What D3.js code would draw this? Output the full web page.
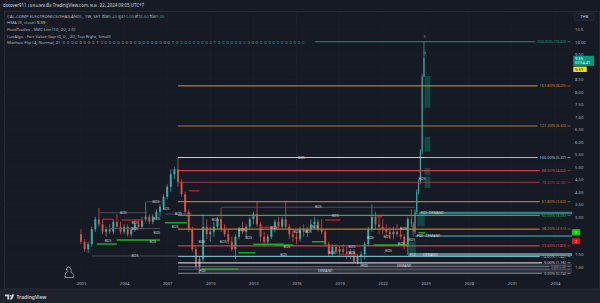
<!DOCTYPE html>
<html>
<head>
  <meta charset="UTF-8">
  <title>CCET 1W</title>
  <style>
    body {
      margin: 0;
      background: #161a25;
    }
    text {
      font-family: "Noto Sans", "DejaVu Sans", sans-serif;
    }
  </style>
</head>
<body>
  <div id="chart"></div>
  <script src="https://cdn.jsdelivr.net/npm/d3@7/dist/d3.min.js"></script>
  <script>
    // weekly candles squeezed into quarters (eighths for the 2024 run-up)
    var quarters = d3.range(92).map(function (i) { return 2001 + i * 0.25 })
    var eighths2024 = d3.range(8).map(function (i) { return 2024 + i * 0.125 })
    var candleTimes = quarters.concat(eighths2024)
    // [open, high, low, close]
    var ohlc = [
      [2.3, 2.5, 1.9, 2.0], [2.0, 2.1, 1.6, 1.7], [1.7, 2.0, 1.55, 1.9], [1.9, 2.6, 1.8, 2.5],
      [2.5, 3.0, 2.4, 2.9], [2.9, 3.35, 2.6, 2.7], [2.7, 2.9, 2.3, 2.4], [2.4, 2.6, 2.2, 2.5],
      [2.5, 2.7, 2.3, 2.4], [2.4, 2.9, 2.3, 2.8], [2.8, 3.1, 2.5, 2.6], [2.6, 2.8, 2.3, 2.4],
      [2.4, 2.7, 2.3, 2.6], [2.6, 2.7, 2.2, 2.3], [2.3, 2.6, 2.2, 2.5], [2.5, 2.8, 2.4, 2.7],
      [2.7, 2.9, 2.5, 2.6], [2.6, 3.0, 2.5, 2.9], [2.9, 3.6, 2.8, 3.0], [3.0, 3.1, 2.7, 2.8],
      [2.8, 3.1, 2.7, 3.0], [3.0, 3.3, 2.9, 3.2], [3.2, 3.5, 3.0, 3.4], [3.4, 3.9, 3.3, 3.8],
      [3.8, 4.3, 3.7, 4.2], [4.2, 4.9, 4.0, 4.7], [4.7, 5.0, 4.5, 4.9], [4.9, 5.37, 4.2, 4.4],
      [4.4, 4.5, 3.8, 3.9], [3.9, 4.0, 3.1, 3.2], [3.2, 3.3, 2.4, 2.5], [2.5, 2.6, 1.6, 1.7],
      [1.7, 1.8, 0.9, 1.0], [1.0, 1.4, 0.74, 1.3], [1.3, 3.1, 1.2, 2.6], [2.6, 2.9, 2.1, 2.3],
      [2.3, 2.6, 2.0, 2.4], [2.4, 2.8, 2.2, 2.6], [2.6, 3.0, 2.5, 2.9], [2.9, 3.35, 2.4, 2.5],
      [2.5, 2.7, 2.2, 2.3], [2.3, 2.5, 1.9, 2.0], [2.0, 2.2, 1.6, 1.7], [1.7, 2.3, 1.3, 2.2],
      [2.2, 2.6, 2.1, 2.5], [2.5, 2.8, 2.3, 2.4], [2.4, 2.7, 2.2, 2.6], [2.6, 3.0, 2.5, 2.9],
      [2.9, 3.2, 2.7, 3.1], [3.1, 3.6, 2.6, 2.7], [2.7, 2.8, 2.0, 2.2], [2.2, 2.4, 1.8, 2.0],
      [2.0, 2.3, 1.9, 2.2], [2.2, 2.6, 2.1, 2.5], [2.5, 2.9, 2.4, 2.8], [2.8, 3.0, 2.5, 2.6],
      [2.6, 3.0, 2.5, 2.9], [2.9, 3.6, 2.5, 2.6], [2.6, 2.7, 2.1, 2.3], [2.3, 2.5, 2.0, 2.2],
      [2.2, 2.4, 1.9, 2.1], [2.1, 2.6, 2.0, 2.5], [2.5, 2.7, 2.2, 2.4], [2.4, 2.6, 2.2, 2.5],
      [2.5, 2.9, 2.4, 2.7], [2.7, 3.0, 2.5, 2.8], [2.8, 2.9, 2.4, 2.5], [2.5, 2.9, 2.3, 2.4],
      [2.4, 2.5, 1.8, 1.9], [1.9, 2.0, 1.4, 1.5], [1.5, 1.9, 1.4, 1.8], [1.8, 1.9, 1.5, 1.6],
      [1.6, 1.8, 1.4, 1.7], [1.7, 1.9, 1.5, 1.6], [1.6, 1.8, 1.3, 1.4], [1.4, 1.7, 1.3, 1.6],
      [1.6, 1.7, 1.2, 1.2], [1.2, 1.5, 1.1, 1.4], [1.4, 1.6, 1.0, 1.5], [1.5, 2.0, 1.3, 1.9],
      [1.9, 2.6, 1.8, 2.5], [2.5, 3.5, 2.4, 3.0], [3.0, 3.2, 2.5, 2.7], [2.7, 3.0, 2.3, 2.6],
      [2.6, 2.9, 2.3, 2.5], [2.5, 2.7, 2.2, 2.4], [2.4, 2.6, 2.1, 2.3], [2.3, 2.6, 2.1, 2.4],
      [2.4, 2.7, 2.2, 2.3], [2.3, 2.6, 2.1, 2.2], [2.2, 2.3, 1.7, 1.8], [1.8, 3.0, 1.47, 2.9],
      [2.9, 3.3, 2.6, 2.7], [2.7, 2.8, 2.2, 2.4], [2.4, 3.3, 2.3, 3.2], [3.2, 4.1, 3.1, 4.0],
      [4.0, 4.5, 3.9, 4.4], [4.4, 5.7, 4.3, 5.6], [5.6, 8.7, 5.5, 8.6], [8.6, 10.0, 8.6, 9.35]
    ]

    var yearTicks = [2001, 2004, 2007, 2010, 2013, 2016, 2019, 2022, 2025, 2028, 2031, 2034]
    var priceTicks = [1, 1.5, 2, 2.5, 3, 3.5, 4, 4.5, 5, 5.5, 6, 6.5, 7, 7.5, 8, 8.5, 9, 9.5, 10, 10.5]
    var lastPrice = 9.35, hmaValue = 9.39

    // fib from the 2009 low to the 2007 high
    var fibLow = 0.74, fibHigh = 5.37, fibStart = 2007.76
    var fibRatios = [0, 0.034, 0.056, 0.09, 0.146, 0.236, 0.382, 0.5, 0.618, 0.786, 0.886, 1, 1.272, 1.618, 2]

    // SMC lite: [from, to, price]
    var bosLines = [
      [2002.32, 2005.58, 3.16], [2005.58, 2006.85, 3.6], [2003.0, 2006.5, 2.53],
      [2001.75, 2007.76, 1.43], [2006.85, 2008.71, 3.11], [2010.76, 2024.28, 3.38],
      [2007.76, 2024.92, 5.37]
    ]
    // BOS tags whose lines are too short to see: [time, price]
    var bosTags = [
      [2002.88, 2.04], [2006.28, 2.9], [2006.0, 1.98], [2006.92, 3.31], [2010.34, 2.87],
      [2012.2, 2.47], [2014.4, 2.54], [2016.82, 2.38], [2017.31, 2.58], [2006.28, 2.34],
      [2009.41, 2.0], [2010.9, 1.98], [2012.66, 2.14], [2016.03, 2.38], [2015.33, 1.78],
      [2018.7, 3.04], [2007.55, 2.58], [2015.1, 1.47], [2018.47, 1.54], [2019.86, 1.54],
      [2024.74, 4.5], [2023.46, 2.5], [2021.14, 2.14], [2022.3, 2.2], [2023.3, 1.91],
      [2022.41, 1.64], [2024.02, 2.06], [2019.86, 1.8], [2004.76, 2.74]
    ]
    var supplyLines = [
      [2002.53, 2003.23, 2.9], [2003.84, 2005.32, 2.87], [2008.53, 2009.24, 4.04],
      [2013.47, 2014.75, 2.58], [2018.0, 2019.05, 2.87], [2018.93, 2020.21, 1.47],
      [2021.6, 2021.95, 3.0]
    ]
    var demandLines = [
      [2002.09, 2003.49, 1.91], [2003.49, 2006.5, 2.07], [2006.85, 2008.37, 2.76],
      [2014.52, 2015.8, 1.87], [2017.08, 2018.0, 2.0], [2011.96, 2013.13, 1.56],
      [2013.0, 2015.1, 1.9], [2009.41, 2011.96, 0.9], [2021.37, 2023.81, 1.87],
      [2024.5, 2024.97, 2.36]
    ]
    // demand zones: [from, top, bottom, label time]
    var zones = [
      [2024.55, 3.20, 3.10, 2025.74], [2024.28, 2.27, 2.19, 2025.5], [2023.79, 1.55, 1.43, 2025.32],
      [2009.15, 0.95, 0.74, 2018.0], [2020.44, 1.10, 1.00, 2023.5]
    ]
    // LuxAlgo fair value gaps: [from, to, top, bottom]
    var fvgBoxes = [
      [2024.92, 2025.32, 8.63, 7.36], [2024.92, 2025.32, 6.2, 5.6], [2024.92, 2025.32, 4.95, 4.67],
      [2024.92, 2025.32, 4.6, 4.15], [2024.42, 2024.92, 3.15, 2.62], [2023.81, 2024.3, 2.0, 1.47]
    ]
    var flipDigits = '0000000010000000000000000010000000001000000000000000000000'.split('')

    var W = 600, H = 303
    var plot = { left: 4, right: 572, top: 12, bottom: 278 }
    var bg = '#161a25'
    var textCol = '#b2b5be'

    var svg = d3.select('#chart').append('svg')
      .attr('width', W)
      .attr('height', H)

    svg.append('rect').attr('width', W).attr('height', H).attr('fill', bg)
    svg.append('rect').attr('y', 289).attr('width', W).attr('height', 14).attr('fill', '#1e222d')
    svg.append('rect')
      .attr('x', 4.5).attr('y', 11.5).attr('width', 595).attr('height', 277.5)
      .attr('fill', 'none').attr('stroke', '#262a35').attr('stroke-width', 1)

    var x = d3.scaleLinear().domain([1995.64, 2035.18]).range([plot.left, plot.right])
    var y = d3.scaleLinear().domain([0.55, 11.19]).range([plot.bottom, plot.top])

    svg.append('clipPath').attr('id', 'clip').append('rect')
      .attr('x', plot.left).attr('y', plot.top)
      .attr('width', plot.right - plot.left).attr('height', plot.bottom - plot.top)

    var g = svg.append('g').attr('clip-path', 'url(#clip)')

    // grid
    g.append('g').selectAll('line').data(yearTicks).enter().append('line')
      .attr('x1', d => x(d)).attr('x2', d => x(d))
      .attr('y1', plot.top).attr('y2', plot.bottom)
      .attr('stroke', '#1d212c').attr('stroke-width', 0.8)
    g.append('g').selectAll('line').data(priceTicks).enter().append('line')
      .attr('x1', plot.left).attr('x2', plot.right)
      .attr('y1', d => y(d)).attr('y2', d => y(d))
      .attr('stroke', '#1b1f2a').attr('stroke-width', 0.8)

    // demand zones
    var zoneCol = ['#3a9ea6', '#2f8b94', '#6fa9b3', '#4a4f5b', '#5b606c']
    var zg = g.append('g')
    zones.forEach(function (z, i) {
      zg.append('rect')
        .attr('x', x(z[0])).attr('y', y(z[1]))
        .attr('width', plot.right - x(z[0]))
        .attr('height', Math.max(1.2, y(z[2]) - y(z[1])))
        .attr('fill', zoneCol[i]).attr('fill-opacity', i < 3 ? 0.75 : 0.45)
    })

    // candles
    var up = '#3fb6b0', down = '#e2564f'
    function gap(i) {
      var j = i < candleTimes.length - 1 ? i : i - 1
      return x(candleTimes[j + 1]) - x(candleTimes[j])
    }
    var cg = g.append('g').selectAll('g').data(ohlc).enter().append('g')
    cg.append('line')
      .attr('x1', (d, i) => x(candleTimes[i]))
      .attr('x2', (d, i) => x(candleTimes[i]))
      .attr('y1', d => y(d[1])).attr('y2', d => y(d[2]))
      .attr('stroke', d => d[3] >= d[0] ? up : down).attr('stroke-width', 0.7)
    cg.append('rect')
      .attr('x', (d, i) => x(candleTimes[i]) - gap(i) * 0.28)
      .attr('width', (d, i) => gap(i) * 0.56)
      .attr('y', d => y(Math.max(d[0], d[3])))
      .attr('height', d => Math.max(0.8, Math.abs(y(d[0]) - y(d[3]))))
      .attr('fill', d => d[3] >= d[0] ? up : down)
      .attr('fill-opacity', 0.85)

    // fair value gaps
    g.append('g').selectAll('rect').data(fvgBoxes).enter().append('rect')
      .attr('x', d => x(d[0])).attr('width', d => x(d[1]) - x(d[0]))
      .attr('y', d => y(d[2])).attr('height', d => y(d[3]) - y(d[2]))
      .attr('fill', '#0f7f6c').attr('fill-opacity', 0.45)

    // fib levels, labels sit left of the price scale
    var fibColor = {
      0: '#aeb3bd', 0.034: '#6f7480', 0.056: '#8d929c', 0.09: '#d6d9e0', 0.146: '#7ec4cf',
      0.236: '#e0434f', 0.382: '#c9851f', 0.5: '#4caf50', 0.618: '#c9851f', 0.786: '#b8324a',
      0.886: '#e0434f', 1: '#a8d0dc', 1.272: '#c9851f', 1.618: '#c9851f', 2: '#1f9c84'
    }
    var fibs = fibRatios.map(function (r) {
      return { r: r, price: fibLow + (fibHigh - fibLow) * r }
    })
    var fl = svg.append('g')
    var fibLines = g.append('g')
    fibs.forEach(function (f) {
      var col = fibColor[f.r]
      // the three bottom levels crowd each other, keep their tags small
      var fs = f.r > 0 && f.r < 0.09 ? 2.6 : 3.9
      var t = fl.append('text')
        .attr('x', 566).attr('y', y(f.price) + fs * 0.36)
        .attr('text-anchor', 'end')
        .attr('font-size', fs).attr('fill', col)
        .text((f.r * 100).toFixed(2) + '% (' + f.price.toFixed(2) + ')')
      fl.append('line')
        .attr('x1', 567.5).attr('x2', 570.5)
        .attr('y1', y(f.price)).attr('y2', y(f.price))
        .attr('stroke', col).attr('stroke-width', 0.6)
      var end = 566 - t.node().getComputedTextLength() - 2
      fibLines.append('line')
        .attr('x1', x(fibStart)).attr('x2', end)
        .attr('y1', y(f.price)).attr('y2', y(f.price))
        .attr('stroke', col)
        .attr('stroke-width', f.r < 0.09 ? 0.8 : 1.2)
        .attr('stroke-opacity', 0.9)
    })

    // supply / demand stubs
    g.append('g').selectAll('line').data(supplyLines).enter().append('line')
      .attr('x1', d => x(d[0])).attr('x2', d => x(d[1]))
      .attr('y1', d => y(d[2])).attr('y2', d => y(d[2]))
      .attr('stroke', '#a3202a').attr('stroke-width', 1.6)
    g.append('g').selectAll('line').data(demandLines).enter().append('line')
      .attr('x1', d => x(d[0])).attr('x2', d => x(d[1]))
      .attr('y1', d => y(d[2])).attr('y2', d => y(d[2]))
      .attr('stroke', '#10b820').attr('stroke-width', 1.4)

    // BOS
    var bg2 = g.append('g')
    bg2.selectAll('line').data(bosLines).enter().append('line')
      .attr('x1', d => x(d[0])).attr('x2', d => x(d[1]))
      .attr('y1', d => y(d[2])).attr('y2', d => y(d[2]))
      .attr('stroke', d => d[2] > 5 ? '#b9d6e0' : '#5d606b')
      .attr('stroke-width', d => d[2] > 5 ? 1.2 : 0.7)
    var tags = bosLines.map(d => [(d[0] + d[1]) / 2, d[2]]).concat(bosTags)
    bg2.selectAll('text').data(tags).enter().append('text')
      .attr('x', d => x(d[0])).attr('y', d => y(d[1]) + 1.2)
      .attr('text-anchor', 'middle')
      .attr('font-size', 3.4).attr('fill', '#c9ccd4')
      .text('BOS')

    // zone labels
    zones.forEach(function (z) {
      var ym = (y(z[1]) + y(z[2])) / 2 + 1.2
      g.append('text').attr('x', x(z[0]) + 1.5).attr('y', ym)
        .attr('font-size', 3.4).attr('fill', '#d6d9e0').text('POI')
      g.append('text').attr('x', x(z[3])).attr('y', ym)
        .attr('text-anchor', 'middle')
        .attr('font-size', 3.4).attr('fill', '#d6d9e0').text('DEMAND')
    })

    // markers at the spike
    g.append('text').attr('x', x(2024.93)).attr('y', y(10.15))
      .attr('text-anchor', 'middle').attr('font-size', 3.6).attr('fill', '#8fa3b8').text('5')
    g.append('rect').attr('x', x(2024.93) - 1.2).attr('y', y(9.55) - 1.2)
      .attr('width', 2.4).attr('height', 2.4).attr('fill', '#4b6074')

    // little drawing left of the data
    svg.append('path')
      .attr('d', 'M65.5,277.5 L73.5,277.5 Q74.5,273.5 71,272.5 Q71.8,268.5 69.5,267 Q67.2,266.2 66.6,268.6 Q66.4,270.4 68,271.4 Q64,273 65.5,277.5 Z M67.5,269 L66,269.6')
      .attr('fill', 'none').attr('stroke', '#cfd2da').attr('stroke-width', 0.6)

    // x axis
    var xAxis = svg.append('g')
      .attr('transform', 'translate(0,' + plot.bottom + ')')
      .call(d3.axisBottom(x).tickValues(yearTicks).tickFormat(d3.format('d')).tickSize(0).tickPadding(4))
    xAxis.select('.domain').remove()
    xAxis.selectAll('text').attr('font-size', 4.2).attr('fill', textCol)

    // price scale, ticks under the price tags are hidden as in TV
    var covered = [9, 2, 2.5]
    var yAxis = svg.append('g')
      .attr('transform', 'translate(' + plot.right + ',0)')
      .call(d3.axisRight(y).tickValues(priceTicks.filter(d => covered.indexOf(d) < 0))
        .tickFormat(d => d === 10.5 ? '10.5' : d.toFixed(2)).tickSize(0).tickPadding(3))
    yAxis.select('.domain').remove()
    yAxis.selectAll('text').attr('font-size', 4.2).attr('fill', textCol)

    svg.append('rect').attr('x', 574.5).attr('y', 13).attr('width', 19.5).attr('height', 7.5)
      .attr('rx', 1).attr('fill', '#1b1f2a').attr('stroke', '#2e3240').attr('stroke-width', 0.6)
    svg.append('text').attr('x', 584.2).attr('y', 18.3).attr('text-anchor', 'middle')
      .attr('font-size', 4).attr('fill', '#d1d4dc').text('THB')

    svg.append('rect').attr('x', 573.3).attr('y', y(lastPrice) - 2.2).attr('width', 20.7).attr('height', 10)
      .attr('fill', '#089981')
    svg.append('text').attr('x', 575).attr('y', y(lastPrice) + 1.6)
      .attr('font-size', 4).attr('fill', '#ffffff').text(lastPrice.toFixed(2))
    svg.append('text').attr('x', 575).attr('y', y(lastPrice) + 6.4)
      .attr('font-size', 3.8).attr('fill', '#e8f5f2').text('07:54:41')
    svg.append('rect').attr('x', 573.3).attr('y', 66.6).attr('width', 13.4).attr('height', 5.4)
      .attr('fill', '#f5e10a')
    svg.append('text').attr('x', 575).attr('y', 70.9)
      .attr('font-size', 4).attr('fill', '#1e1e1e').text(hmaValue.toFixed(2))
    svg.append('rect').attr('x', 572).attr('y', 229.2).attr('width', 8).attr('height', 6)
      .attr('fill', '#00d800')
    svg.append('text').attr('x', 576).attr('y', 233.8).attr('text-anchor', 'middle')
      .attr('font-size', 4).attr('fill', '#ffffff').text('1')
    svg.append('rect').attr('x', 572).attr('y', 238.2).attr('width', 8).attr('height', 6)
      .attr('fill', '#f01010')
    svg.append('text').attr('x', 576).attr('y', 242.8).attr('text-anchor', 'middle')
      .attr('font-size', 4).attr('fill', '#ffffff').text('2')

    // header and legend
    svg.append('text').attr('x', 3).attr('y', 6.8)
      .attr('font-size', 4.4).attr('fill', '#d1d4dc')
      .text('dotover911 เผยแพร่เมื่อ TradingView.com, พ.ค. 22, 2024 09:05 UTC+7')

    // legend row of the flip indicator hides the 200% line behind it
    svg.append('rect').attr('x', 5).attr('y', 39).attr('width', 310).attr('height', 5.5).attr('fill', bg)

    var lg = svg.append('g').attr('font-size', 4.3).attr('fill', textCol)
    var teal = '#22ab94'
    var row1 = lg.append('text').attr('x', 7).attr('y', 17.5)
    row1.append('tspan').text('CAL-COMP ELECTRONICS(THAILAND)., 1W, SET  เปิด')
    row1.append('tspan').attr('fill', teal).text('9.40')
    row1.append('tspan').text(' สูง')
    row1.append('tspan').attr('fill', teal).text('10.00')
    row1.append('tspan').text(' ต่ำ')
    row1.append('tspan').attr('fill', teal).text('8.60')
    row1.append('tspan').text(' ปิด')
    row1.append('tspan').attr('fill', teal).text('9.35')
    var row2 = lg.append('text').attr('x', 7).attr('y', 24.2)
    row2.append('tspan').text('HMA (9, close) ')
    row2.append('tspan').attr('fill', '#f5e10a').text(hmaValue.toFixed(2))
    lg.append('text').attr('x', 7).attr('y', 30.9).text('FluidTrades - SMC Lite (10, 20, 2.5)')
    lg.append('text').attr('x', 7).attr('y', 37.5).text('LuxAlgo - Fair Value Gap (0, 0, , 20, Top Right, Small)')

    var row5 = lg.append('text').attr('x', 7).attr('y', 44.1).text('Machao Flip (4, Normal, 2)')
    var digitStart = 7 + row5.node().getComputedTextLength() + 3
    lg.selectAll('.flip').data(flipDigits).enter().append('text')
      .attr('class', 'flip')
      .attr('x', (d, i) => digitStart + i * 4.2)
      .attr('y', 44.1)
      .attr('fill', function (d, i) {
        if (i === 9) return '#f23645'
        if (i === 26) return '#00e676'
        if (i === 43 || i === 57) return '#2962ff'
        if (i > 26) return teal
        return '#9598a1'
      })
      .text(d => d)

    // footer logo
    svg.append('path').attr('d', 'M5,294.5 h4.2 v5 h-1.8 v-3.3 h-2.4 Z M12.2,294.5 h2.2 l-2.4,5 h-2.2 Z')
      .attr('fill', '#d1d4dc')
    svg.append('circle').attr('cx', 10.6).attr('cy', 295.6).attr('r', 0.9).attr('fill', '#d1d4dc')
    svg.append('text').attr('x', 16.5).attr('y', 299).attr('font-size', 5).attr('font-weight', 600)
      .attr('fill', '#d1d4dc').text('TradingView')
  </script>
</body>
</html>
